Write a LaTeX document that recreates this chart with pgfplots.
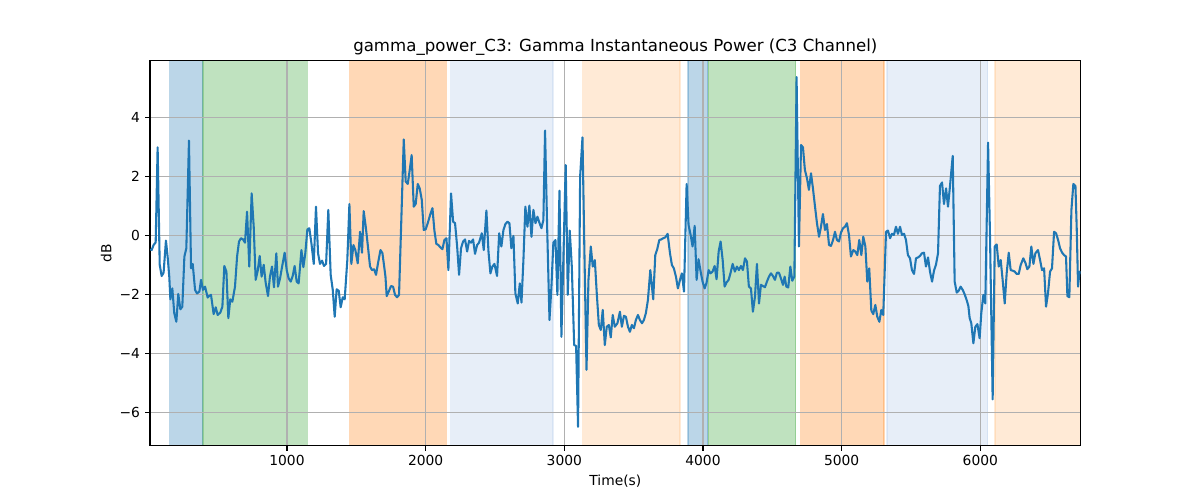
\documentclass[border=0pt]{standalone}
\usepackage{fontspec}
\setmainfont{DejaVu Sans}
\usepackage{pgfplots}
\pgfplotsset{compat=1.18}
\definecolor{c0}{HTML}{1F77B4}
\definecolor{cgreen}{HTML}{2CA02C}
\definecolor{corange}{HTML}{FF7F0E}
\definecolor{clblue}{HTML}{AEC7E8}
\definecolor{clorange}{HTML}{FFBB78}
\definecolor{gridc}{HTML}{B0B0B0}
\pgfplotsset{span/.style={on layer=axis background, fill=#1, fill opacity=0.3, draw=#1, draw opacity=0.3, line width=1pt}}
\begin{document}
\begin{tikzpicture}
\begin{axis}[
  set layers,
  clip mode=individual,
  scale only axis,
  width=9.307in, height=3.854in,
  at={(1.5in,0.543in)}, anchor=south west,
  xmin=12, xmax=6724, ymin=-7.13, ymax=5.93,
  xtick={1000,2000,3000,4000,5000,6000},
  xticklabels={1000,2000,3000,4000,5000,6000},
  ytick={-6,-4,-2,0,2,4},
  yticklabels={−6,−4,−2,0,2,4},
  tick pos=left,
  tick align=outside,
  major tick length=3.5pt,
  tick style={black, line width=0.8pt},
  axis line style={black, line width=0.8pt},
  grid=major,
  grid style={color=gridc, line width=0.8pt},
  tick label style={font=\fontsize{10}{12}\selectfont},
  xticklabel style={inner sep=0pt, anchor=base, yshift=-11.1pt},
  yticklabel style={inner sep=0pt, anchor=east, xshift=-3.5pt},
  title={gamma\_power\_C3: Gamma Instantaneous Power (C3 Channel)},
  title style={font=\fontsize{12}{14}\selectfont, at={(axis description cs:0.5,1)}, anchor=base, inner sep=0pt},
  xlabel={Time(s)},
  xlabel style={font=\fontsize{10}{12}\selectfont, at={(axis description cs:0.5,-0.102)}, anchor=base, inner sep=0pt},
  ylabel={dB},
  ylabel style={font=\fontsize{10}{12}\selectfont, at={(axis description cs:-0.0414,0.5)}, anchor=base, rotate=0, inner sep=0pt},
]
% shaded spans
\addplot[span=c0] coordinates {(154,-7.13) (392,-7.13) (392,5.93) (154,5.93)} -- cycle;
\addplot[span=cgreen] coordinates {(394,-7.13) (1147,-7.13) (1147,5.93) (394,5.93)} -- cycle;
\addplot[span=corange] coordinates {(1452,-7.13) (2150,-7.13) (2150,5.93) (1452,5.93)} -- cycle;
\addplot[span=clblue] coordinates {(2181,-7.13) (2919,-7.13) (2919,5.93) (2181,5.93)} -- cycle;
\addplot[span=clorange] coordinates {(3133,-7.13) (3833,-7.13) (3833,5.93) (3133,5.93)} -- cycle;
\addplot[span=c0] coordinates {(3893,-7.13) (4033,-7.13) (4033,5.93) (3893,5.93)} -- cycle;
\addplot[span=cgreen] coordinates {(4038,-7.13) (4668,-7.13) (4668,5.93) (4038,5.93)} -- cycle;
\addplot[span=corange] coordinates {(4704,-7.13) (5305,-7.13) (5305,5.93) (4704,5.93)} -- cycle;
\addplot[span=clblue] coordinates {(5327,-7.13) (6053,-7.13) (6053,5.93) (5327,5.93)} -- cycle;
\addplot[span=clorange] coordinates {(6106,-7.13) (6760,-7.13) (6760,5.93) (6106,5.93)} -- cycle;
% signal
\addplot[c0, line width=1.5pt, line join=round, mark=none] coordinates {
(14,-0.47)(24,-0.50)(38,-0.33)(53,-0.24)(67,2.98)(82,-1.0)(96,-1.38)(110,-1.27)(127,-0.18)(139,-0.72)(151,-1.4)(159,-2.17)(173,-1.80)(187,-2.64)(202,-2.93)(216,-1.99)(231,-2.51)(245,-2.42)(260,-0.72)(274,-0.44)(293,3.21)(308,-1.12)(320,-0.97)(337,-1.85)(351,-1.97)(368,-1.91)(380,-1.51)(394,-1.85)(409,-1.74)(428,-2.11)(440,-2.05)(452,-2.02)(471,-2.67)(486,-2.44)(500,-2.70)(519,-2.62)(534,-2.42)(548,-1.04)(563,-1.23)(577,-2.81)(591,-2.17)(606,-2.25)(625,-1.74)(640,-0.72)(654,-0.21)(668,-0.10)(683,-0.14)(697,-0.25)(712,0.80)(728,-1.06)(745,1.42)(760,0.29)(774,-1.51)(789,-1.20)(803,-0.70)(817,-1.40)(832,-1.0)(846,-1.6)
(863,-2.06)(877,-1.40)(892,-1.06)(906,-1.76)(923,-0.61)(935,-1.74)(950,-1.46)(964,-1.08)(983,-0.59)(998,-1.18)(1012,-1.46)(1027,-1.57)(1041,-1.38)(1055,-1.04)(1070,-1.57)(1084,-1.63)(1104,-0.50)(1118,-1.08)(1132,-0.61)(1147,0.20)(1161,0.24)(1176,-0.27)(1193,-0.97)(1209,0.97)(1224,-0.61)(1238,-0.97)(1253,-0.86)(1267,-1.04)(1282,-0.97)(1298,0.86)(1315,-1.34)(1330,-1.85)(1344,-2.76)(1358,-1.83)(1373,-1.88)(1387,-2.44)(1402,-2.10)(1416,-2.17)(1435,-0.84)(1450,1.06)(1464,-0.97)(1479,-0.33)(1493,-0.50)(1510,-0.95)(1527,0.12)(1541,-0.59)(1553,0.82)(1568,0.29)(1585,-0.44)(1599,-1.06)(1613,-1.18)(1628,-1.15)(1642,-1.34)(1657,-0.93)(1674,-0.50)
(1688,-0.60)(1702,-1.1)(1710,-1.4)(1719,-2.06)(1736,-1.88)(1750,-1.72)(1765,-1.74)(1779,-2.02)(1794,-2.10)(1808,-2.02)(1842,3.25)(1856,1.82)(1871,1.74)(1885,2.21)(1899,2.72)(1914,0.97)(1928,1.06)(1943,1.74)(1957,1.59)(1972,1.20)(1986,0.18)(2000,0.20)(2015,0.41)(2034,0.72)(2049,0.92)(2063,0.16)(2077,-0.29)(2092,-0.33)(2106,-0.41)(2121,-0.47)(2135,-0.16)(2150,-0.10)(2164,-1.18)(2183,1.42)(2198,0.46)(2212,0.41)(2227,-0.38)(2241,-1.34)(2255,-0.44)(2270,-0.21)(2284,-0.14)(2299,-0.55)(2313,-0.19)(2328,-0.25)(2342,-0.14)(2356,-0.63)(2371,-0.33)(2385,-0.25)(2405,0.07)(2419,-0.50)(2438,0.84)(2453,-0.55)(2467,-1.29)(2481,-1.06)(2496,-0.97)(2515,-1.38)(2530,0.07)
(2546,-0.38)(2561,0.18)(2575,0.38)(2590,0.46)(2604,0.41)(2618,-0.44)(2633,-0.02)(2647,-1.97)(2664,-2.31)(2679,-1.63)(2691,-2.28)(2705,-0.84)(2719,0.97)(2734,0.29)(2748,1.01)(2763,-0.05)(2777,0.86)(2792,0.41)(2806,0.63)(2820,0.43)(2835,0.24)(2849,0.52)(2861,3.55)(2876,0.29)(2893,-2.87)(2907,-1.74)(2921,-0.25)(2936,-0.16)(2950,-2.02)(2965,1.51)(2979,-3.44)(3010,2.38)(3025,-2.02)(3039,0.16)(3054,-1.06)(3071,-3.72)(3085,-3.75)(3099,-6.49)(3114,1.99)(3131,3.32)(3145,-0.61)(3160,-4.56)(3174,-1.51)(3191,-0.38)(3205,-1.06)(3220,-0.84)(3234,-1.97)(3249,-3.04)(3263,-3.21)(3277,-2.53)(3292,-3.72)(3306,-3.10)(3321,-3.04)(3335,-3.46)(3349,-2.70)(3364,-3.10)(3383,-2.98)
(3401,-2.59)(3415,-3.10)(3430,-2.73)(3444,-2.76)(3459,-3.10)(3473,-3.27)(3487,-3.04)(3502,-3.15)(3516,-2.87)(3531,-2.70)(3545,-2.87)(3560,-2.98)(3574,-2.87)(3588,-2.64)(3603,-2.19)(3620,-1.18)(3641,-2.17)(3656,-0.67)(3670,-0.47)(3685,-0.16)(3699,-0.14)(3713,-0.10)(3728,-0.07)(3745,0.05)(3762,-0.61)(3776,-1.01)(3790,-1.12)(3805,-1.40)(3819,-1.80)(3834,-1.51)(3848,-1.29)(3863,-1.91)(3882,1.74)(3896,0.35)(3911,0.01)(3925,-0.38)(3940,0.32)(3954,-1.51)(3968,-0.81)(3983,-1.23)(3997,-1.57)(4012,-1.80)(4026,-1.60)(4041,-1.18)(4055,-1.29)(4069,-1.23)(4084,-1.04)(4098,-1.49)(4113,-0.55)(4127,-0.21)(4142,-0.84)(4156,-1.74)(4170,-1.60)(4185,-1.51)(4199,-1.27)(4214,-0.97)
(4230,-1.23)(4245,-1.06)(4259,-1.18)(4274,-1.04)(4288,-1.18)(4303,-0.78)(4317,-0.89)(4331,-1.74)(4346,-1.80)(4360,-2.59)(4375,-2.08)(4389,-0.97)(4404,-2.31)(4418,-1.68)(4432,-1.72)(4447,-1.76)(4461,-1.57)(4476,-1.40)(4490,-1.29)(4505,-1.38)(4519,-1.51)(4533,-1.27)(4548,-1.27)(4562,-1.46)(4577,-1.68)(4589,-1.40)(4601,-1.74)(4615,-1.77)(4630,-1.06)(4644,-1.54)(4659,-1.40)(4675,5.36)(4692,-0.38)(4707,3.06)(4721,2.98)(4735,2.21)(4750,1.93)(4764,1.54)(4779,2.10)(4793,1.59)(4808,0.97)(4822,0.41)(4837,-0.05)(4851,0.29)(4865,0.72)(4880,0.18)(4894,0.38)(4909,-0.33)(4923,-0.36)(4938,-0.16)(4952,0.12)(4966,-0.16)(4981,-0.21)(4995,0.09)(5010,0.24)(5024,0.29)(5038,0.41)(5053,0.01)(5067,-0.72)
(5084,-0.50)(5098,-0.55)(5113,-0.67)(5127,-0.16)(5142,-0.67)(5156,-0.05)(5171,-0.38)(5185,-1.57)(5199,-1.12)(5214,-2.55)(5228,-2.67)(5243,-2.36)(5257,-2.76)(5272,-2.93)(5286,-2.53)(5300,-2.70)(5320,0.12)(5334,0.16)(5349,-0.10)(5363,0.05)(5377,0.01)(5392,0.29)(5406,0.05)(5421,0.29)(5435,0.01)(5450,0.05)(5464,-0.16)(5478,-0.67)(5493,-0.78)(5507,-1.18)(5522,-1.31)(5536,-0.78)(5551,-0.75)(5565,-0.70)(5579,-0.61)(5594,-0.59)(5608,-1.06)(5623,-0.75)(5637,-1.23)(5652,-1.57)(5666,-1.20)(5680,-1.0)(5695,-0.61)(5709,1.67)(5724,1.79)(5738,1.06)(5753,1.59)(5767,0.97)(5781,1.65)(5801,2.69)(5815,-1.57)(5830,-1.94)(5844,-1.88)(5858,-1.74)(5873,-1.85)
(5887,-2.0)(5902,-2.2)(5914,-2.4)(5923,-2.8)(5935,-2.98)(5950,-3.66)(5964,-3.10)(5979,-3.01)(5995,-3.49)(6007,-2.64)(6022,-2.02)(6036,-2.31)(6056,3.14)(6070,-0.05)(6089,-5.56)(6104,-0.38)(6118,-0.31)(6133,-1.06)(6147,-0.84)(6161,-1.51)(6176,-2.31)(6190,-1.29)(6205,-0.59)(6219,-1.18)(6234,-1.20)(6248,-1.23)(6262,-1.31)(6277,-1.31)(6291,-1.01)(6310,-0.78)(6325,-0.93)(6339,-1.15)(6354,-1.06)(6368,-0.38)(6383,-0.97)(6397,-0.61)(6416,-0.50)(6431,-0.84)(6445,-1.18)(6460,-1.12)(6474,-2.42)(6488,-1.97)(6503,-1.23)(6517,-1.12)(6532,0.12)(6546,0.07)(6561,-0.16)(6575,-0.44)(6590,-0.59)(6604,-0.67)(6618,-0.72)(6628,-2.06)(6642,-2.10)(6657,0.86)(6671,1.74)(6686,1.67)(6695,0.29)(6705,-1.74)(6715,-1.23)(6724,-1.29)
};
\end{axis}
\pgfresetboundingbox
\path[use as bounding box] (0,0) rectangle (12in,5in);
\end{tikzpicture}
\end{document}
